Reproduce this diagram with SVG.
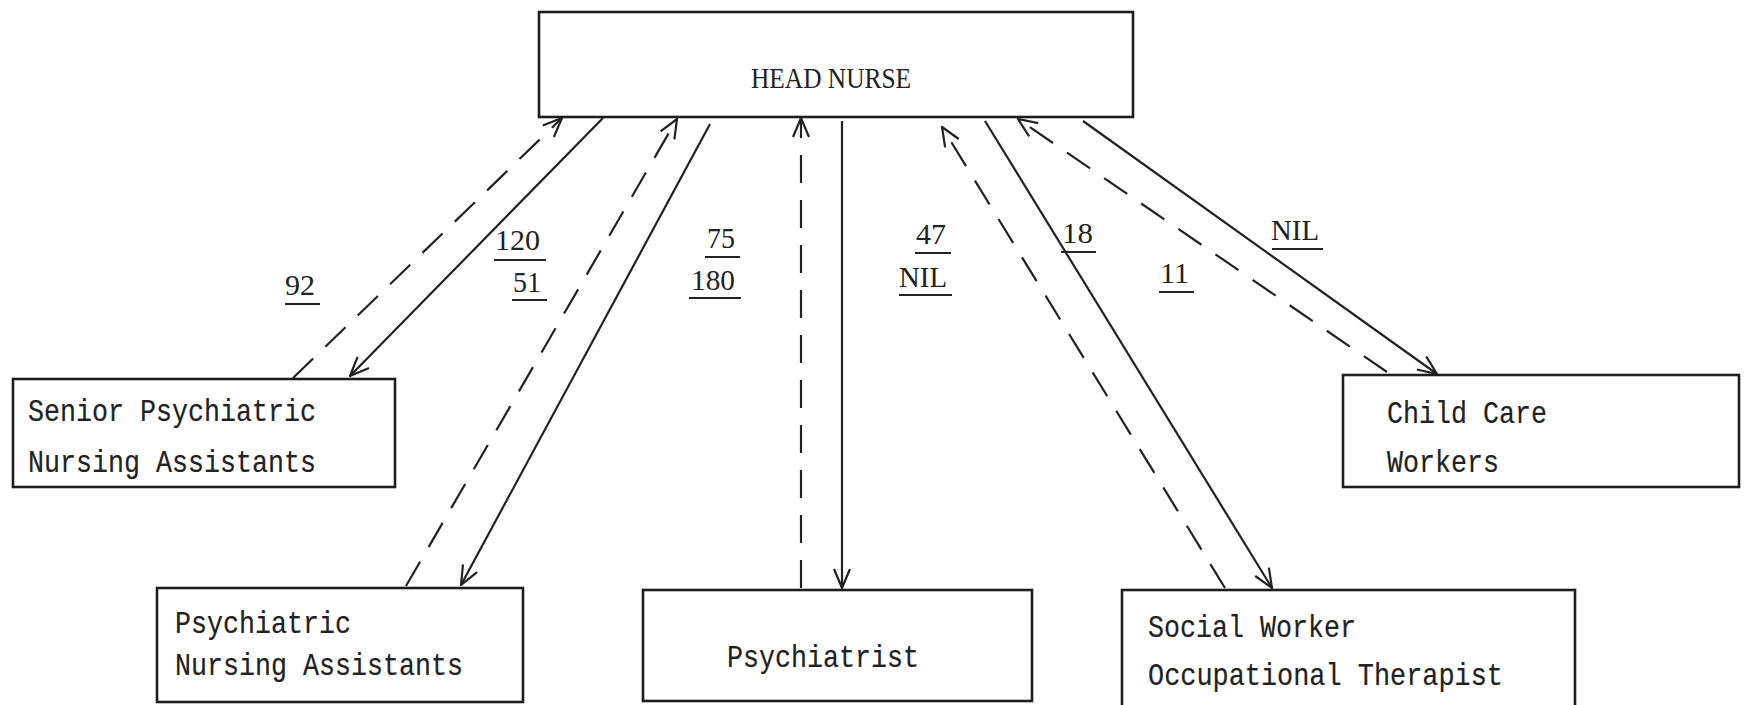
<svg xmlns="http://www.w3.org/2000/svg" width="1758" height="705" viewBox="0 0 1758 705">
  <style>
    .box { fill: none; stroke: #1e1e1e; stroke-width: 2.6; }
    .mono { font-family: "Liberation Mono", "DejaVu Sans Mono", monospace; font-size: 32px; fill: #222; stroke: #222; stroke-width: 0.2; }
    .serif { font-family: "Liberation Serif", "DejaVu Serif", serif; font-size: 29px; fill: #222; }
    .solid { stroke: #222; stroke-width: 2.2; fill: none; marker-end: url(#ah); }
    .dash { stroke: #222; stroke-width: 2.2; fill: none; stroke-dasharray: 28 17; marker-end: url(#ah); }
    .ul { stroke: #222; stroke-width: 2; }
  </style>
  <defs>
    <marker id="ah" viewBox="0 0 22 22" refX="21" refY="11" markerWidth="22" markerHeight="22" markerUnits="userSpaceOnUse" orient="auto">
      <path d="M2,3 L21,11 L2,19" fill="none" stroke="#222" stroke-width="2.2"/>
    </marker>
  </defs>
  <rect width="1758" height="705" fill="#ffffff"/>

  <!-- nodes -->
  <g id="head-nurse">
    <rect class="box" x="539" y="12" width="594" height="105"/>
    <text class="serif" x="751" y="88" font-size="32" textLength="160" lengthAdjust="spacingAndGlyphs">HEAD NURSE</text>
  </g>
  <g id="senior-pna">
    <rect class="box" x="13" y="379" width="382" height="108"/>
    <text class="mono" x="28" y="421" textLength="288" lengthAdjust="spacingAndGlyphs">Senior Psychiatric</text>
    <text class="mono" x="28" y="472" textLength="288" lengthAdjust="spacingAndGlyphs">Nursing Assistants</text>
  </g>
  <g id="pna">
    <rect class="box" x="157" y="588" width="366" height="114"/>
    <text class="mono" x="175" y="633" textLength="176" lengthAdjust="spacingAndGlyphs">Psychiatric</text>
    <text class="mono" x="175" y="675" textLength="288" lengthAdjust="spacingAndGlyphs">Nursing Assistants</text>
  </g>
  <g id="psychiatrist">
    <rect class="box" x="643" y="590" width="389" height="111"/>
    <text class="mono" x="727" y="667" textLength="192" lengthAdjust="spacingAndGlyphs">Psychiatrist</text>
  </g>
  <g id="social-worker">
    <rect class="box" x="1122" y="590" width="453" height="140"/>
    <text class="mono" x="1148" y="637" textLength="208" lengthAdjust="spacingAndGlyphs">Social Worker</text>
    <text class="mono" x="1148" y="685" textLength="355" lengthAdjust="spacingAndGlyphs">Occupational Therapist</text>
  </g>
  <g id="child-care">
    <rect class="box" x="1343" y="375" width="396" height="112"/>
    <text class="mono" x="1387" y="423" textLength="160" lengthAdjust="spacingAndGlyphs">Child Care</text>
    <text class="mono" x="1387" y="472" textLength="112" lengthAdjust="spacingAndGlyphs">Workers</text>
  </g>

  <!-- connectors -->
  <g id="connectors">
    <line class="dash" x1="293" y1="378" x2="562" y2="118"/>
    <line class="solid" x1="603" y1="118" x2="350" y2="376"/>
    <line class="dash" x1="406" y1="586" x2="677" y2="119"/>
    <line class="solid" x1="710" y1="124" x2="461" y2="585"/>
    <line class="dash" x1="801" y1="588" x2="801" y2="118"/>
    <line class="solid" x1="842" y1="121" x2="842" y2="588"/>
    <line class="dash" x1="1225" y1="588" x2="942" y2="127"/>
    <line class="solid" x1="985" y1="121" x2="1272" y2="588"/>
    <line class="dash" x1="1387" y1="372" x2="1018" y2="119"/>
    <line class="solid" x1="1083" y1="121" x2="1437" y2="374"/>
  </g>

  <!-- connector labels -->
  <g id="labels">
    <text class="serif" x="285" y="295" textLength="30" lengthAdjust="spacingAndGlyphs">92</text>
    <line class="ul" x1="285" y1="304" x2="320" y2="304"/>
    <text class="serif" x="495" y="250" textLength="45" lengthAdjust="spacingAndGlyphs">120</text>
    <line class="ul" x1="494" y1="260" x2="546" y2="260"/>
    <text class="serif" x="513" y="292" textLength="28" lengthAdjust="spacingAndGlyphs">51</text>
    <line class="ul" x1="512" y1="300" x2="547" y2="300"/>
    <text class="serif" x="707" y="248" textLength="28" lengthAdjust="spacingAndGlyphs">75</text>
    <line class="ul" x1="705" y1="257" x2="740" y2="257"/>
    <text class="serif" x="691" y="290" textLength="44" lengthAdjust="spacingAndGlyphs">180</text>
    <line class="ul" x1="689" y1="298" x2="741" y2="298"/>
    <text class="serif" x="916" y="244" textLength="30" lengthAdjust="spacingAndGlyphs">47</text>
    <line class="ul" x1="915" y1="253" x2="951" y2="253"/>
    <text class="serif" x="899" y="287" textLength="48" lengthAdjust="spacingAndGlyphs">NIL</text>
    <line class="ul" x1="899" y1="295" x2="952" y2="295"/>
    <text class="serif" x="1062" y="243" textLength="31" lengthAdjust="spacingAndGlyphs">18</text>
    <line class="ul" x1="1061" y1="252" x2="1096" y2="252"/>
    <text class="serif" x="1160" y="283" textLength="29" lengthAdjust="spacingAndGlyphs">11</text>
    <line class="ul" x1="1159" y1="292" x2="1194" y2="292"/>
    <text class="serif" x="1271" y="240" textLength="48" lengthAdjust="spacingAndGlyphs">NIL</text>
    <line class="ul" x1="1272" y1="249" x2="1323" y2="249"/>
  </g>
</svg>
